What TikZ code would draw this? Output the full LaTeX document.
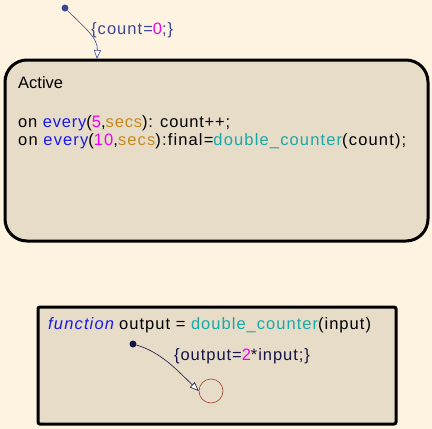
\documentclass[tikz,border=0pt]{standalone}
\usepackage{fontspec}
\setmainfont{Liberation Sans}
\usetikzlibrary{arrows.meta}
\definecolor{bgcream}{HTML}{FDF3E0}
\definecolor{boxfill}{HTML}{E6DCC8}
\definecolor{kwblue}{HTML}{1A1AE6}
\definecolor{nummag}{HTML}{F000F0}
\definecolor{secorange}{HTML}{C88A1E}
\definecolor{fnteal}{HTML}{1AA8A8}
\definecolor{transblue}{HTML}{3C4690}
\definecolor{navy}{HTML}{141446}
\definecolor{junction}{HTML}{A04030}
\newcommand{\kwd}[1]{\textcolor{kwblue}{#1}}
\newcommand{\num}[1]{\textcolor{nummag}{#1}}
\newcommand{\unitw}[1]{\textcolor{secorange}{#1}}
\newcommand{\fcall}[1]{\textcolor{fnteal}{#1}}
\newcommand{\spaced}[1]{\addfontfeature{LetterSpace=#1}}
\tikzset{
  statebox/.style={draw=black, line width=3pt, fill=boxfill, rounded corners=22pt},
  funcbox/.style={draw=black, line width=3pt, fill=boxfill, rounded corners=2pt},
  code/.style={anchor=base west, inner sep=0pt, font=\fontsize{16.5}{18}\selectfont},
  trans/.style={draw=transblue, line width=0.6pt, -{Triangle[open, length=9pt, width=7pt, fill=white]}},
  dot/.style={circle, fill=#1, inner sep=0pt, minimum size=7pt},
}
\begin{document}
\begin{tikzpicture}[x=1pt, y=-1pt]
  \fill[bgcream] (0,0) rectangle (432,429);
  \useasboundingbox (0,0) rectangle (432,429);

  % Active state
  \draw[statebox] (5,60) rectangle (428,241);
  \node[code] (title) at (18,88) {Active};
  \node[code] (line1) at (18,127) {\spaced{5}on \kwd{every}(\num{5},\unitw{secs}): count++;};
  \node[code] (line2) at (18,145) {\spaced{7}on \kwd{every}(\num{10},\unitw{secs}):final=\fcall{double\_counter}(count);};

  % default transition into Active
  \node[dot=transblue] (d0) at (65,8) {};
  \coordinate (a0) at (97,59);
  \draw[trans] (d0) .. controls (85,28) and (98,38) .. (a0);
  \node[code, text=transblue] (lab0) at (91,34) {\spaced{6.3}\{count=\textcolor{nummag}{0};\}};

  % graphical function
  \draw[funcbox] (38,307) rectangle (396,424);
  \node[code] (kwfun) at (48,329) {\spaced{7}\textcolor{kwblue}{\itshape function}};
  \node[code] (sig) at (119,329) {\spaced{6.2}output = \fcall{double\_counter}(input)};
  \node[dot=navy] (d1) at (133,344) {};
  \node[circle, draw=junction, line width=0.6pt, minimum size=24pt, inner sep=0pt] (j1) at (211,391) {};
  \draw[trans, draw=navy] (d1) .. controls (160,352) and (175,368) .. (j1.west);
  \node[code, text=navy] (lab1) at (174,360) {\spaced{5.7}\{output=\textcolor{nummag}{2}*input;\}};
\end{tikzpicture}
\end{document}
